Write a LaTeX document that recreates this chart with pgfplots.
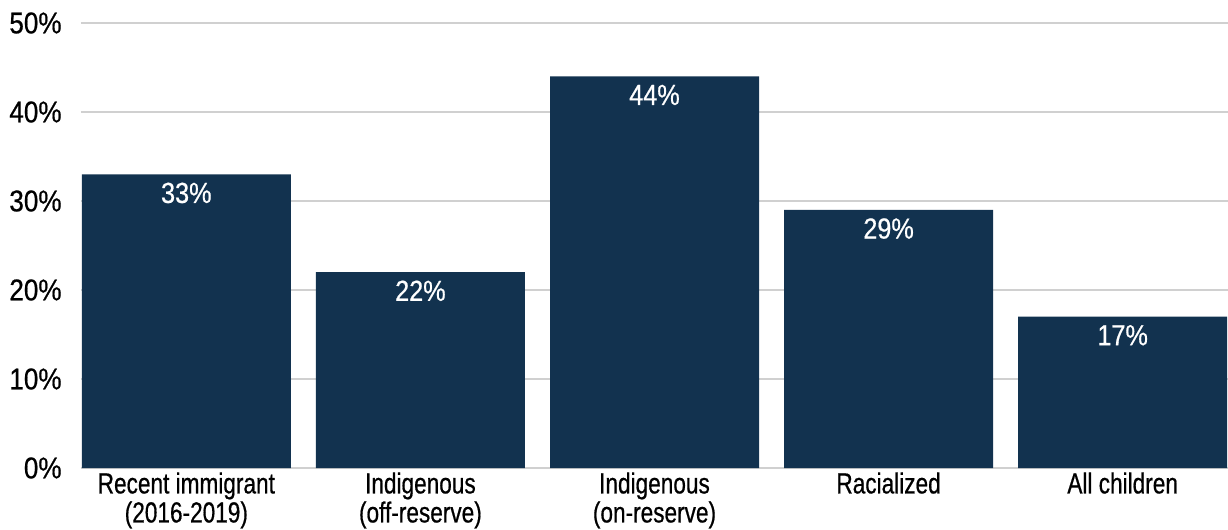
\documentclass[border=0pt]{standalone}
\usepackage{fontspec}
\setmainfont{Liberation Sans}[FakeStretch=0.78, FakeBold=0.6]
\newfontfamily\numfont{Liberation Sans}[FakeStretch=0.87, FakeBold=0.6]
\usepackage{pgfplots}
\pgfplotsset{compat=1.18}
\definecolor{barblue}{HTML}{12324F}
\definecolor{gridgray}{HTML}{D0D0D0}
\begin{document}
\begin{tikzpicture}
\begin{axis}[
  name=ax,
  scale only axis,
  width=573.5pt, height=222.5pt,
  xmin=-0.45, xmax=4.45,
  ymin=0, ymax=50,
  ybar, bar width=104.5pt,
  xtick=data,
  xticklabels={Recent immigrant\\(2016-2019), Indigenous\\(off-reserve), Indigenous\\(on-reserve), Racialized, All children},
  ytick={0,10,20,30,40,50},
  yticklabels={0\%,10\%,20\%,30\%,40\%,50\%},
  ymajorgrids,
  major grid style={gridgray, line width=1pt},
  axis line style={draw=none},
  major tick length=0pt,
  xticklabel style={align=center, font=\fontsize{14.5}{13.5}\selectfont, inner sep=0pt, anchor=north, yshift=-2pt},
  yticklabel style={font=\numfont\fontsize{15}{16}\selectfont, inner sep=0pt, anchor=east, xshift=-9.5pt},
  /pgf/number format/assume math mode=true,
  nodes near coords={\pgfmathprintnumber{\pgfplotspointmeta}\%},
  every node near coord/.append style={anchor=north, inner sep=0pt, yshift=-4pt, text=white, font=\numfont\fontsize{14.5}{16}\selectfont},
  clip=false,
]
\addplot[fill=barblue, draw=none] coordinates {(0,33) (1,22) (2,44) (3,29) (4,17)};
\end{axis}
\pgfresetboundingbox
\path (ax.south west) ++(-40.5pt,-30.5pt) coordinate (bl);
\path (ax.north east) ++(0pt,11.5pt) coordinate (tr);
\path[use as bounding box] (bl) rectangle (tr);
\end{tikzpicture}
\end{document}
